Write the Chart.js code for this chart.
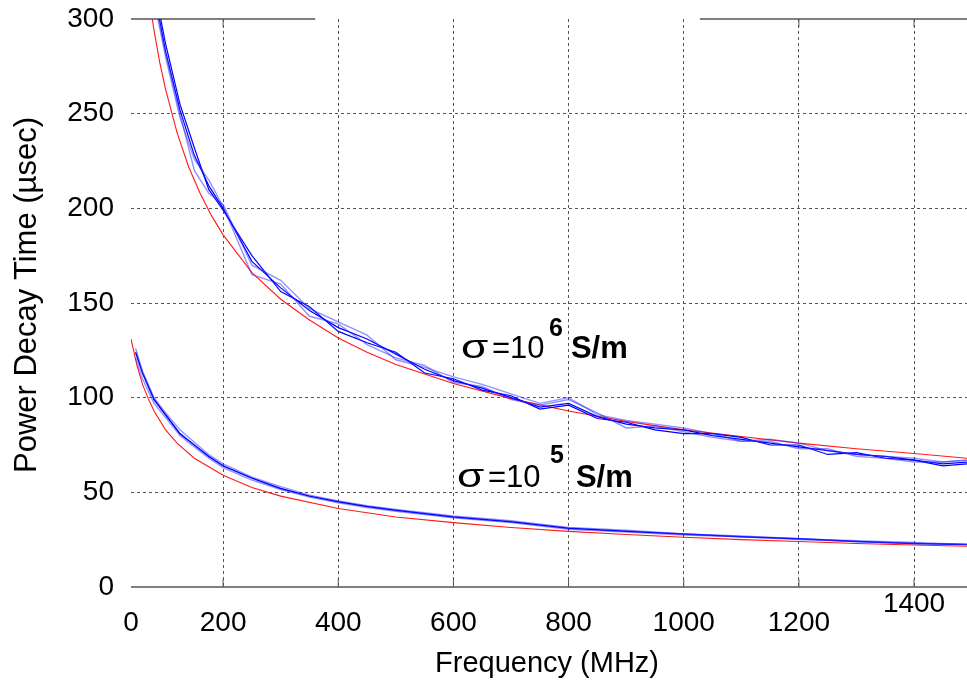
<!DOCTYPE html>
<html>
<head>
<meta charset="utf-8">
<script src="https://cdn.jsdelivr.net/npm/chart.js@4.4.1/dist/chart.umd.min.js"></script>
<style>
  html, body { margin: 0; padding: 0; background: #fff; }
  #wrap { width: 967px; height: 687px; }
</style>
</head>
<body>
<div id="wrap"><canvas id="decayChart" width="967" height="687"></canvas></div>
<script>
// sigma = 1e6 S/m, measured traces (usec)
const freqHi = [60, 80, 100, 125, 150, 175, 200, 250, 300, 350, 400, 450, 500, 550, 600, 650, 700, 750, 800, 850, 900, 950, 1000, 1050, 1100, 1150, 1200, 1250, 1300, 1350, 1400, 1450, 1492];
const blueHi1 = [345, 315, 283, 252, 228, 212, 200, 172, 158, 146, 137, 131, 123, 115, 109, 105, 100, 95, 97, 90, 86, 84, 83, 80, 78, 76, 74, 72, 70, 69, 67, 65, 66];
const blueHi2 = [340, 310, 280, 248, 226, 215, 201, 165, 160, 143, 139, 128, 121, 117, 108, 106, 99, 96, 99, 92, 84, 85, 82, 79, 77, 77, 73, 73, 69, 68, 66, 66, 67];
const blueHi3 = [350, 318, 287, 255, 232, 210, 199, 175, 156, 148, 135, 129, 124, 113, 110, 104, 101, 94, 96, 89, 87, 83, 81, 81, 79, 75, 75, 70, 71, 68, 67, 64, 65];
const blueHi4 = [342, 312, 282, 250, 220, 208, 202, 170, 162, 147, 140, 133, 120, 116, 111, 107, 102, 97, 100, 91, 88, 86, 84, 81, 77, 78, 76, 72, 70, 69, 68, 66, 67];

// sigma = 1e5 S/m, measured traces
const freqLo = [48, 60, 80, 100, 125, 150, 175, 200, 250, 300, 350, 400, 450, 500, 600, 700, 800, 900, 1000, 1100, 1200, 1300, 1400, 1492];
const blueLo1 = [124, 113, 99, 91, 81, 75, 69, 64, 57.5, 52, 48, 45, 42.5, 40.5, 37, 34.5, 31, 29.5, 28, 26.5, 25.5, 24, 23, 22.5];
const blueLo2 = [121, 110, 97, 89.5, 80, 74, 68, 63, 56.5, 51.5, 47.5, 44.5, 42, 40, 36.5, 34, 30.5, 29, 27.5, 26.5, 25, 24, 23, 22.5];
const blueLo3 = [126, 114, 100, 92, 83, 76.5, 70, 65, 58, 53, 48.5, 45.5, 43, 41, 37.5, 35, 31.5, 30, 28, 27, 25.5, 24.5, 23.5, 22.5];

// fitted curves (red)
const freqRedHi = [60, 70, 80, 90, 100, 120, 140, 160, 180, 200, 250, 300, 350, 400, 450, 500, 600, 700, 800, 900, 1000, 1100, 1200, 1300, 1400, 1492];
const redHi = [340, 314, 294, 277, 263, 240, 222, 208, 196, 186, 166, 152, 141, 131.5, 124, 117.5, 107.5, 99.5, 93, 87.5, 83, 79.5, 76, 73, 70.5, 68];
const freqRedLo = [40, 50, 60, 70, 80, 100, 120, 150, 200, 250, 300, 400, 500, 600, 700, 800, 900, 1000, 1100, 1200, 1300, 1400, 1492];
const redLo = [131, 117.5, 107, 99.5, 93, 83, 76, 68, 59, 52.5, 48, 41.5, 37, 34, 31.4, 29.4, 27.7, 26.3, 25, 24, 23, 22.2, 21.5];

const xTicks = [200, 400, 600, 800, 1000, 1200, 1400];
const X_MIN = 40, X_MAX = 1492;
const Y_MIN = 0, Y_MAX = 300;
const xTitle = 'Frequency (MHz)';
const yTitle = 'Power Decay Time (µsec)';

const FONT = '"Liberation Sans", Arial, sans-serif';
const DARK = '#0000ff';
const LIGHT = 'rgba(40, 40, 255, 0.5)';
const RED = '#ff1a1a';

function pts(xs, ys) {
    return xs.map((f, i) => ({ x: f, y: ys[i] }));
}

function trace(xs, ys, color, width) {
    return {
        data: pts(xs, ys),
        borderColor: color,
        borderWidth: width,
        pointRadius: 0,
        tension: 0,
        fill: false
    };
}

// sigma labels, anchored in data units
const sigmaLabels = [
    { f: 613, v: 121, exp: '6', dxEq: 31, dxExp: 88, dyExp: -22, dxUnit: 110 },
    { f: 606, v: 52.8, exp: '5', dxEq: 31, dxExp: 93, dyExp: -24, dxUnit: 119 }
];

const decorations = {
    id: 'decorations',
    beforeDatasetsDraw(chart) {
        const { ctx, chartArea: a, scales: { x, y } } = chart;
        ctx.save();
        ctx.strokeStyle = '#555';
        ctx.lineWidth = 1.5;
        ctx.beginPath();
        const y0 = y.getPixelForValue(0);
        ctx.moveTo(a.left, y0);
        ctx.lineTo(a.right, y0);
        // top frame is broken in the middle in the original
        ctx.moveTo(a.left, a.top);
        ctx.lineTo(x.getPixelForValue(360), a.top);
        ctx.moveTo(x.getPixelForValue(1028), a.top);
        ctx.lineTo(a.right, a.top);
        ctx.stroke();

        ctx.lineWidth = 1;
        ctx.beginPath();
        xTicks.forEach(v => {
            const px = x.getPixelForValue(v);
            ctx.moveTo(px, y0);
            ctx.lineTo(px, y0 - 8);
            if (v < 360 || v > 1028) {
                ctx.moveTo(px, a.top);
                ctx.lineTo(px, a.top + 8);
            }
        });
        ctx.stroke();
        ctx.restore();
    },
    afterDatasetsDraw(chart) {
        const { ctx, chartArea: a, scales: { x, y } } = chart;
        ctx.save();
        ctx.fillStyle = '#000';
        ctx.textAlign = 'left';
        ctx.textBaseline = 'alphabetic';
        sigmaLabels.forEach(l => {
            const px = x.getPixelForValue(l.f);
            const py = y.getPixelForValue(l.v);
            ctx.save();
            ctx.translate(px, py);
            ctx.scale(1.3, 1);
            ctx.font = '34px ' + FONT;
            ctx.fillText('σ', 0, 0);
            ctx.restore();
            ctx.font = '31px ' + FONT;
            ctx.fillText('=10', px + l.dxEq, py);
            ctx.font = 'bold 25px ' + FONT;
            ctx.fillText(l.exp, px + l.dxExp, py + l.dyExp);
            ctx.font = 'bold 31px ' + FONT;
            ctx.fillText('S/m', px + l.dxUnit, py);
        });

        // the 1400 label sits higher than the others in the original
        ctx.textAlign = 'center';
        ctx.textBaseline = 'middle';
        ctx.font = '28px ' + FONT;
        ctx.fillText('1400', x.getPixelForValue(1400), a.bottom + 17);

        // axis titles
        ctx.font = '29px ' + FONT;
        ctx.fillText(xTitle, (a.left + a.right) / 2 - 2, a.bottom + 77);
        ctx.save();
        ctx.translate(27, a.top + 276);
        ctx.rotate(-Math.PI / 2);
        ctx.font = '31px ' + FONT;
        ctx.fillText(yTitle, 0, 0);
        ctx.restore();
        ctx.restore();
    }
};

const ctx = document.getElementById('decayChart').getContext('2d');
new Chart(ctx, {
    type: 'line',
    data: {
        datasets: [
            trace(freqHi, blueHi2, LIGHT, 1.4),
            trace(freqHi, blueHi4, LIGHT, 1.4),
            trace(freqHi, blueHi1, DARK, 1.2),
            trace(freqHi, blueHi3, DARK, 1.2),
            trace(freqLo, blueLo2, LIGHT, 1.4),
            trace(freqLo, blueLo3, LIGHT, 1.4),
            trace(freqLo, blueLo1, DARK, 1.5),
            trace(freqRedHi, redHi, RED, 1.1),
            trace(freqRedLo, redLo, RED, 1.1)
        ]
    },
    options: {
        responsive: false,
        animation: false,
        devicePixelRatio: 1,
        layout: { padding: { top: 19, right: 0, left: 0, bottom: 0 } },
        plugins: {
            legend: { display: false },
            tooltip: { enabled: false }
        },
        scales: {
            x: {
                type: 'linear',
                min: X_MIN,
                max: X_MAX,
                afterBuildTicks: scale => {
                    scale.ticks = [X_MIN, ...xTicks].map(v => ({ value: v }));
                },
                afterFit: scale => {
                    scale.height = 100;
                    scale.paddingLeft = 0;
                    scale.paddingRight = 0;
                },
                ticks: {
                    autoSkip: false,
                    maxRotation: 0,
                    padding: 19,
                    color: '#000',
                    font: { family: FONT, size: 28 },
                    callback: v => (v === X_MIN ? '0' : v === 1400 ? '' : v)
                },
                grid: {
                    drawTicks: false,
                    lineWidth: 1,
                    color: c => (c.tick && c.tick.value === X_MIN ? 'rgba(0,0,0,0)' : '#555')
                },
                border: { display: false, dash: [3, 3] }
            },
            y: {
                min: Y_MIN,
                max: Y_MAX,
                afterFit: scale => {
                    scale.width = 131;
                    scale.paddingTop = 0;
                    scale.paddingBottom = 0;
                },
                ticks: {
                    stepSize: 50,
                    padding: 17,
                    color: '#000',
                    font: { family: FONT, size: 28 }
                },
                grid: {
                    drawTicks: false,
                    lineWidth: 1,
                    color: c => (c.tick && (c.tick.value === Y_MIN || c.tick.value === Y_MAX) ? 'rgba(0,0,0,0)' : '#555')
                },
                border: { display: false, dash: [3, 3] }
            }
        }
    },
    plugins: [decorations]
});
</script>
</body>
</html>
